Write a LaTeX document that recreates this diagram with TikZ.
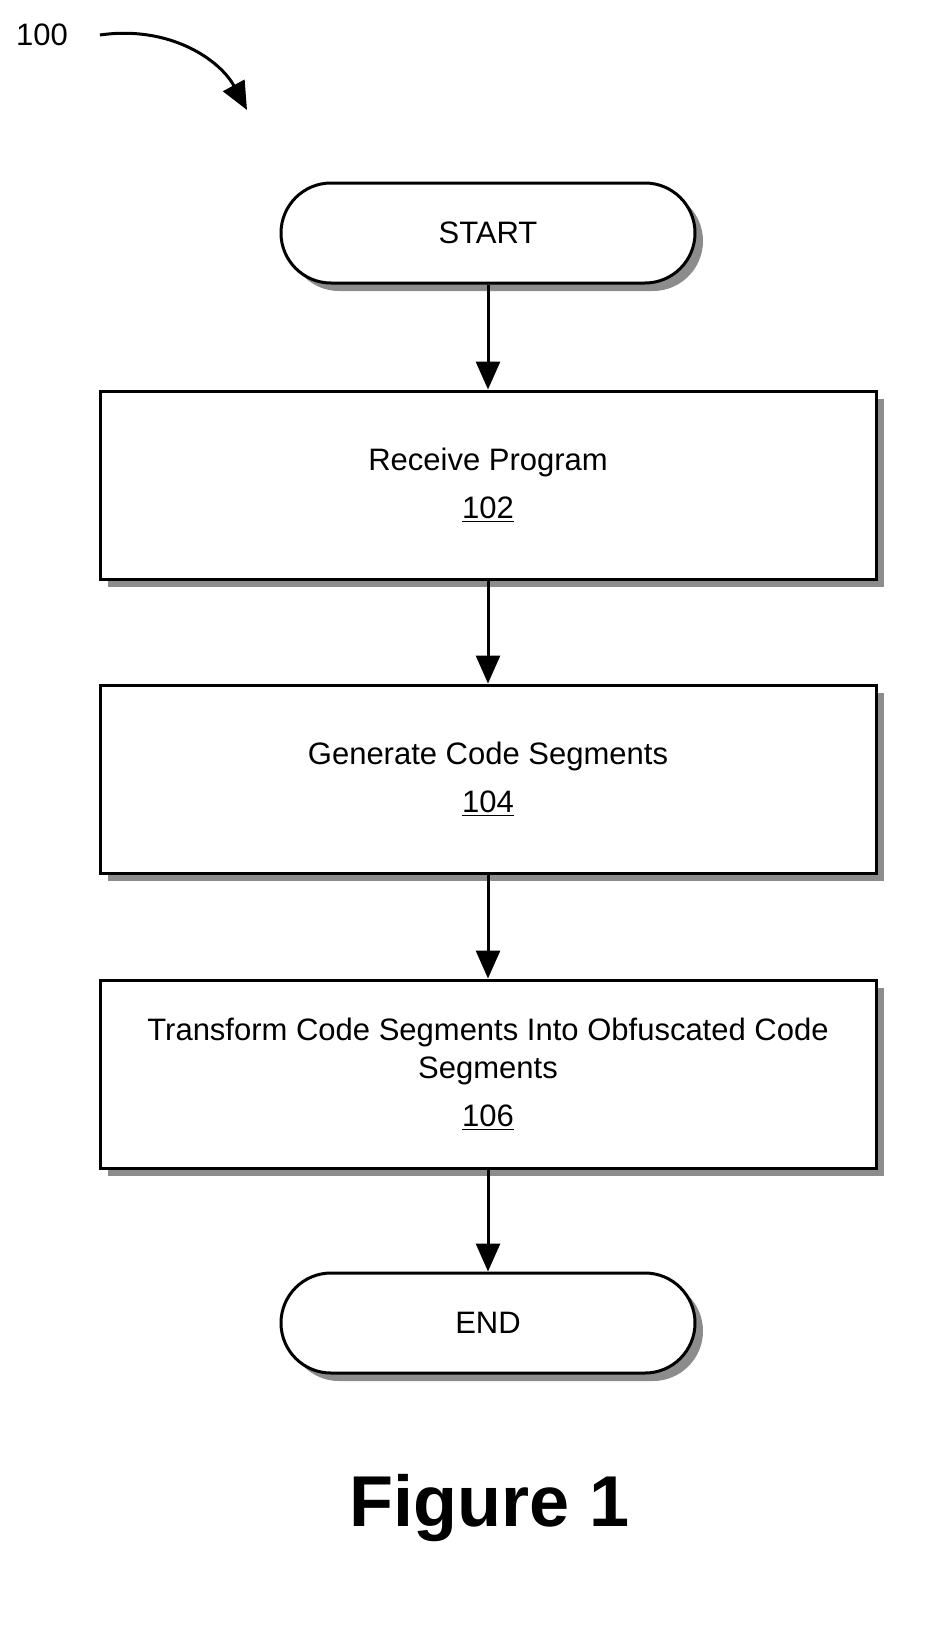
\documentclass[tikz,border=0pt]{standalone}
\usepackage{fontspec}
\setmainfont{Liberation Sans}
\usetikzlibrary{positioning,shadows,arrows.meta}
\tikzset{
    every node/.style={font=\fontsize{15.5}{19}\selectfont},
    term/.style={draw,line width=1.5pt,rounded corners=25pt,minimum width=207pt,minimum height=50pt,fill=white,
        drop shadow={shadow xshift=4pt,shadow yshift=-4pt,fill=black!45,opacity=1}},
    procbox/.style={draw,line width=1.5pt,minimum width=388pt,minimum height=94pt,fill=white,align=center,
        drop shadow={shadow xshift=4pt,shadow yshift=-4pt,fill=black!45,opacity=1}},
    flow/.style={-{Triangle[length=14pt,width=12pt]},line width=1.5pt}}
\begin{document}
\begin{tikzpicture}[x=0.5pt,y=-0.5pt]
    \node (start) [term] at (488,233) {START};
    \node (recv) [procbox] at (488,485) {Receive Program\\[5pt]\underline{102}};
    \node (gen) [procbox] at (488,779) {Generate Code Segments\\[5pt]\underline{104}};
    \node (trans) [procbox] at (488,1074) {Transform Code Segments Into Obfuscated Code\\Segments\\[5pt]\underline{106}};
    \node (end) [term] at (488,1323) {END};
    \node (fig) at (490,1508) {\fontsize{36}{40}\selectfont\bfseries Figure 1};
    \node (num) at (42,35) {100};
    \coordinate (tip) at (247,110);
    \draw [flow] (start) -- (recv);
    \draw [flow] (recv) -- (gen);
    \draw [flow] (gen) -- (trans);
    \draw [flow] (trans) -- (end);
    \draw [flow] (num.east) ++(25,0) .. controls (170,25) and (220,60) .. (tip);
    \pgfresetboundingbox
    \useasboundingbox (0,0) rectangle (943,1633);
\end{tikzpicture}
\end{document}
